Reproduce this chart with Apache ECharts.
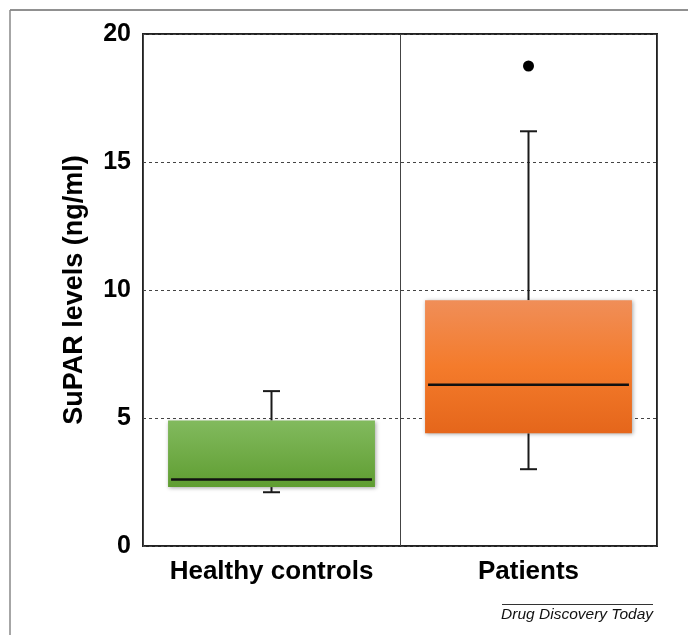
<!DOCTYPE html>
<html>
<head>
<meta charset="utf-8">
<script src="https://cdn.jsdelivr.net/npm/echarts@6/dist/echarts.min.js"></script>
<style>html,body{margin:0;padding:0;background:#fff;}#chart{width:688px;height:635px;}</style>
</head>
<body>
<div id="chart"></div>
<script>
var categories = ['Healthy controls', 'Patients'];
var whiskerLow = [2.1, 3.0];
var q1 = [2.3, 4.4];
var median = [2.6, 6.3];
var q3 = [4.9, 9.6];
var whiskerHigh = [6.05, 16.2];
var outliers = [[1, 18.75]];
var yTicks = [0, 5, 10, 15, 20];

var boxData = categories.map(function (c, i) {
  return [i, whiskerLow[i], q1[i], median[i], q3[i], whiskerHigh[i]];
});

var gradients = [
  new echarts.graphic.LinearGradient(0, 0, 0, 1, [
    {offset: 0, color: '#82ba5e'}, {offset: 1, color: '#5f9d31'}
  ]),
  new echarts.graphic.LinearGradient(0, 0, 0, 1, [
    {offset: 0, color: '#f08e58'}, {offset: 0.5, color: '#f47b2b'}, {offset: 1, color: '#e5661b'}
  ])
];

var chart = echarts.init(document.getElementById('chart'), null, {renderer: 'canvas'});
var font = 'Liberation Sans, Arial, sans-serif';

chart.setOption({
  animation: false,
  grid: {left: 143, right: 31, top: 34, bottom: 89, show: true, borderColor: '#222', borderWidth: 2, backgroundColor: 'transparent'},
  xAxis: {
    type: 'category',
    data: categories,
    boundaryGap: true,
    axisLine: {show: false},
    axisTick: {show: false, interval: 0},
    axisLabel: {interval: 0, hideOverlap: false, fontFamily: font, fontWeight: 'bold', fontSize: 26, color: '#000', margin: 13},
    splitLine: {show: true, interval: 0, lineStyle: {color: '#444', width: 1}}
  },
  yAxis: {
    type: 'value',
    min: 0, max: 20, interval: 5,
    name: 'SuPAR levels (ng/ml)',
    nameLocation: 'middle',
    nameRotate: 90,
    nameGap: 55,
    nameTextStyle: {fontFamily: font, fontWeight: 'bold', fontSize: 27, color: '#000'},
    axisLine: {show: false},
    axisTick: {show: false},
    axisLabel: {fontFamily: font, fontWeight: 'bold', fontSize: 25, color: '#000', margin: 12,
      formatter: function (v) { return yTicks.indexOf(v) >= 0 ? String(v) : ''; }},
    splitLine: {show: true, lineStyle: {color: '#444', width: 1, type: [3, 3]}}
  },
  series: [
    {
      type: 'custom',
      data: boxData,
      encode: {x: 0, y: [1, 2, 3, 4, 5]},
      renderItem: function (params, api) {
        var idx = api.value(0);
        var lowP = api.coord([idx, api.value(1)]);
        var q1P = api.coord([idx, api.value(2)]);
        var medP = api.coord([idx, api.value(3)]);
        var q3P = api.coord([idx, api.value(4)]);
        var highP = api.coord([idx, api.value(5)]);
        var bw = api.size([1, 0])[0] * 0.805;
        var cx = q1P[0];
        var cap = 17;
        var lineStyle = {stroke: '#1a1a1a', lineWidth: 2};
        return {
          type: 'group',
          children: [
            {type: 'line', shape: {x1: cx, y1: q3P[1], x2: cx, y2: highP[1]}, style: lineStyle},
            {type: 'line', shape: {x1: cx - cap / 2, y1: highP[1], x2: cx + cap / 2, y2: highP[1]}, style: lineStyle},
            {type: 'line', shape: {x1: cx, y1: q1P[1], x2: cx, y2: lowP[1]}, style: lineStyle},
            {type: 'line', shape: {x1: cx - cap / 2, y1: lowP[1], x2: cx + cap / 2, y2: lowP[1]}, style: lineStyle},
            {type: 'rect', shape: {x: cx - bw / 2, y: q3P[1], width: bw, height: q1P[1] - q3P[1]},
              style: {fill: gradients[idx], shadowBlur: 4, shadowColor: 'rgba(0,0,0,0.35)', shadowOffsetX: 1, shadowOffsetY: 1}},
            {type: 'line', shape: {x1: cx - bw / 2 + 3, y1: medP[1], x2: cx + bw / 2 - 3, y2: medP[1]},
              style: {stroke: '#111', lineWidth: 2.5}}
          ]
        };
      },
      z: 3
    },
    {
      type: 'scatter',
      data: outliers,
      symbol: 'circle',
      symbolSize: 11,
      itemStyle: {color: '#000', opacity: 1},
      z: 4
    }
  ],
  graphic: [
    {type: 'line', shape: {x1: 10, y1: 10, x2: 688, y2: 10}, style: {stroke: '#222', lineWidth: 1}},
    {type: 'line', shape: {x1: 10, y1: 10, x2: 10, y2: 635}, style: {stroke: '#888', lineWidth: 1.5}},
    {type: 'line', shape: {x1: 502, y1: 604.5, x2: 653, y2: 604.5}, style: {stroke: '#333', lineWidth: 1}},
    {type: 'text', right: 35, top: 607, style: {text: 'Drug Discovery Today', font: 'italic 15.5px Liberation Sans, Arial, sans-serif', fill: '#111'}}
  ]
});
</script>
</body>
</html>
